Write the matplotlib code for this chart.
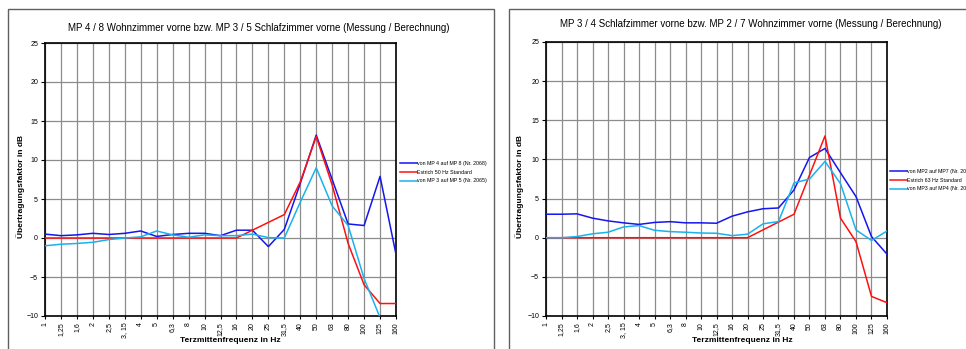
import numpy as np
import matplotlib
matplotlib.use("Agg")
import matplotlib.pyplot as plt
from matplotlib.patches import Rectangle

plt.rcParams['font.family'] = ['Liberation Sans', 'DejaVu Sans']

freqs = ["1", "1,25", "1,6", "2", "2,5", "3, 15", "4", "5", "6,3", "8", "10", "12,5",
         "16", "20", "25", "31,5", "40", "50", "63", "80", "100", "125", "160"]

# left chart
left_title = "MP 4 / 8 Wohnzimmer vorne bzw. MP 3 / 5 Schlafzimmer vorne (Messung / Berechnung)"
left_blue = [0.5, 0.3, 0.4, 0.6, 0.45, 0.6, 0.9, 0.2, 0.45, 0.6, 0.6, 0.3,
             1.0, 1.0, -1.1, 1.1, 7.0, 13.2, 7.5, 1.8, 1.6, 7.9, -2.1]
left_red = [0, 0, 0, 0, 0, 0, 0, 0, 0, 0, 0, 0,
            0, 1.0, 2.0, 3.0, 7.2, 13.0, 6.8, -0.7, -6.0, -8.4, -8.4]
left_cyan = [-1.0, -0.8, -0.7, -0.55, -0.2, 0.0, 0.15, 0.9, 0.4, 0.1, 0.4, 0.3,
             0.3, 0.5, 0.05, 0.0, 4.6, 9.0, 4.1, 1.6, -5.2, -10.2, -14.0]
left_names = ["von MP 4 auf MP 8 (Nr. 2068)", "Estrich 50 Hz Standard",
              "von MP 3 auf MP 5 (Nr. 2065)"]

# right chart
right_title = "MP 3 / 4 Schlafzimmer vorne bzw. MP 2 / 7 Wohnzimmer vorne (Messung / Berechnung)"
right_blue = [3.0, 3.0, 3.05, 2.5, 2.15, 1.9, 1.7, 1.95, 2.05, 1.9, 1.9, 1.85,
              2.75, 3.3, 3.7, 3.8, 6.1, 10.25, 11.4, 8.3, 5.25, 0.15, -2.1]
right_red = [0, 0, 0, 0, 0, 0, 0, 0, 0, 0, 0, 0,
             0, 0, 1.0, 2.0, 3.0, 8.0, 13.0, 2.5, -0.5, -7.5, -8.3]
right_cyan = [0.0, 0.0, 0.15, 0.5, 0.7, 1.37, 1.55, 0.95, 0.78, 0.7, 0.6, 0.57,
              0.27, 0.45, 1.77, 2.07, 7.0, 7.5, 9.75, 6.9, 1.0, -0.35, 0.85]
right_names = ["von MP2 auf MP7 (Nr. 2071)", "Estrich 63 Hz Standard",
               "von MP3 auf MP4 (Nr. 2070)"]

W, H = 966, 349
fig = plt.figure(figsize=(W / 100, H / 100), dpi=100)


def fx(px):
    return px / W


def fy(py):
    return 1 - py / H


# outer chart frames
fig.patches.append(Rectangle((fx(8), fy(360)), fx(494 - 8), fy(9) - fy(360),
                             transform=fig.transFigure, fill=False,
                             edgecolor='#606060', lw=1.0))
fig.patches.append(Rectangle((fx(509), fy(360)), fx(980 - 509), fy(9) - fy(360),
                             transform=fig.transFigure, fill=False,
                             edgecolor='#606060', lw=1.0))


def draw(x0, x1, y0, y1, title, tpos, blue, red, cyan, names, leg_x, leg_y,
         xl_x, yl_x, yl_y):
    ax = fig.add_axes([fx(x0), fy(y1), fx(x1 - x0), fy(y0) - fy(y1)])
    x = np.arange(len(freqs))
    ax.plot(x, blue, color='#1515f0', lw=1.1, label=names[0], zorder=3)
    ax.plot(x, red, color='#ff1010', lw=1.1, label=names[1], zorder=3)
    ax.plot(x, cyan, color='#1ab2ee', lw=1.1, label=names[2], zorder=3)
    ax.set_xlim(0, len(freqs) - 1)
    ax.set_ylim(-10, 25)
    ax.set_yticks(range(-10, 26, 5))
    ax.set_xticks(x)
    ax.set_xticklabels(freqs, rotation=90, fontsize=5)
    ax.tick_params(axis='y', labelsize=5, length=3, width=0.8, pad=2)
    ax.tick_params(axis='x', length=2.5, width=0.8, pad=2)
    ax.grid(True, color='#8c8c8c', lw=0.9)
    ax.set_axisbelow(True)
    for s in ax.spines.values():
        s.set_linewidth(1.2)
        s.set_color('black')
    fig.text(fx(tpos[0]), fy(tpos[1]), title, ha='center', va='center',
             fontsize=7)
    fig.text(fx(xl_x), fy(341), "Terzmittenfrequenz in Hz", ha='center',
             va='center', fontsize=6, fontweight='bold')
    fig.text(fx(yl_x), fy(yl_y), "Übertragungsfaktor in dB", ha='center',
             va='center', fontsize=6, fontweight='bold', rotation=90)
    ax.legend(loc='center left', bbox_to_anchor=(fx(leg_x), fy(leg_y)),
              bbox_transform=fig.transFigure, frameon=False, fontsize=3.8,
              handlelength=3.2, handletextpad=0.0, labelspacing=0.75,
              borderaxespad=0, borderpad=0)
    return ax


draw(45, 396, 43, 316, left_title, (259, 28), left_blue, left_red, left_cyan,
     left_names, 400, 172, 230, 21, 187)
draw(546, 887, 42, 316, right_title, (751, 24), right_blue, right_red,
     right_cyan, right_names, 890, 180, 742, 520, 187)

fig.savefig("out.png", dpi=100)
